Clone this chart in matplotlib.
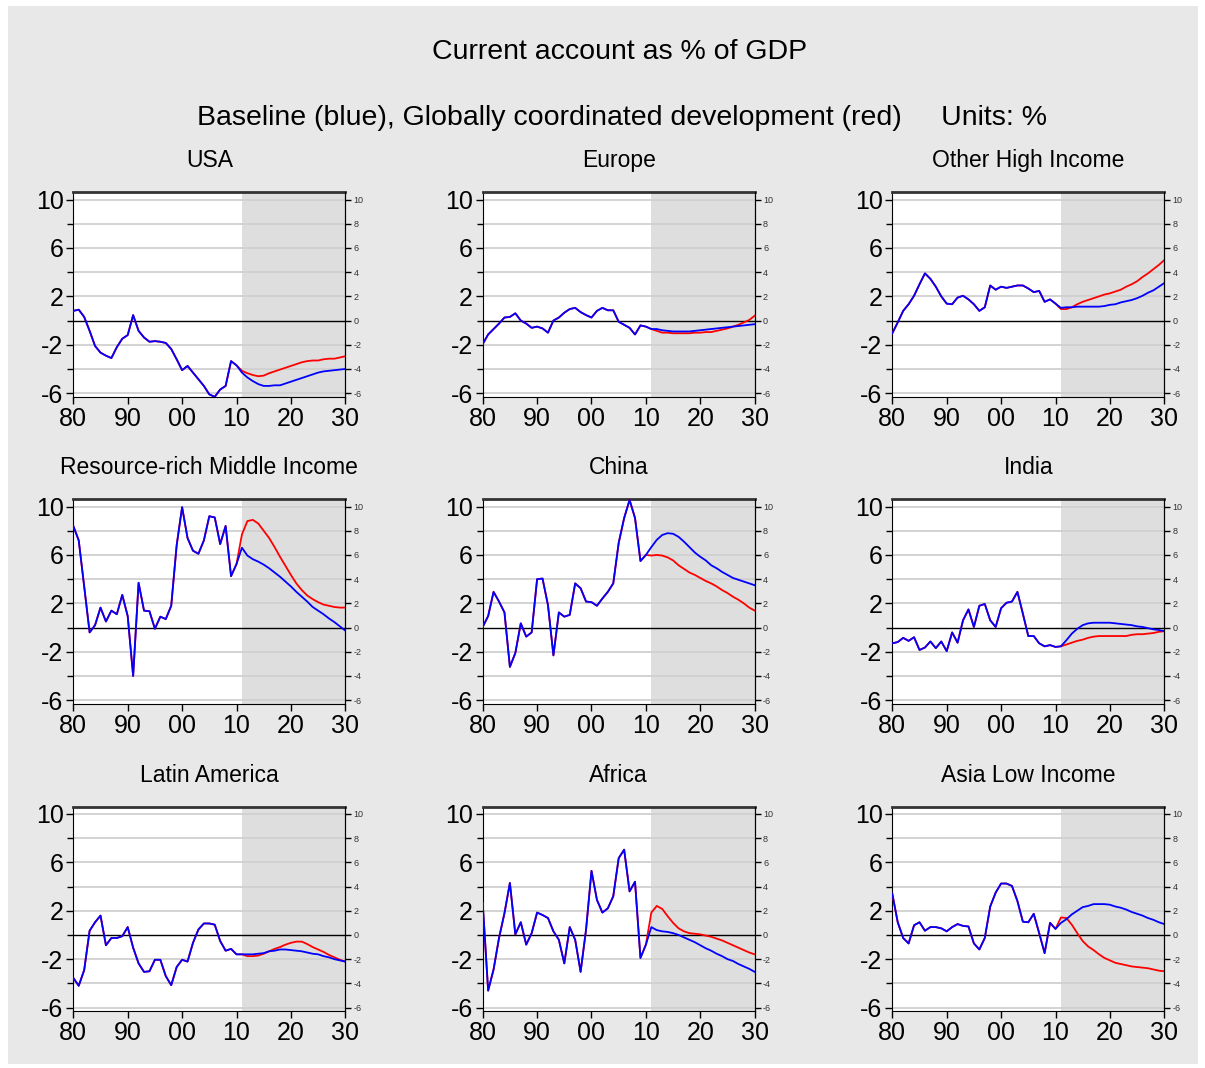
import matplotlib
matplotlib.use("Agg")
import matplotlib.pyplot as plt
import matplotlib.patches as patches
import numpy as np

plt.rcParams['font.family'] = ['Liberation Sans', 'DejaVu Sans']
plt.rcParams['axes.unicode_minus'] = False

years = np.arange(1980, 2031)

regions = ["USA", "Europe", "Other High Income",
           "Resource-rich Middle Income", "China", "India",
           "Latin America", "Africa", "Asia Low Income"]

# history 1980-2010
usa_hist = [0.8, 0.9, 0.3, -0.85, -2.1, -2.65, -2.9, -3.1, -2.2, -1.5, -1.2,
            0.45, -0.85, -1.4, -1.75, -1.7, -1.75, -1.85, -2.35, -3.2, -4.1,
            -3.75, -4.3, -4.85, -5.4, -6.1, -6.3, -5.7, -5.4, -3.35, -3.7]
europe_hist = [-1.95, -1.15, -0.7, -0.25, 0.25, 0.3, 0.6, 0.0, -0.25, -0.6, -0.5,
               -0.65, -1.0, 0.0, 0.25, 0.65, 0.95, 1.05, 0.7, 0.45, 0.25,
               0.8, 1.05, 0.85, 0.85, -0.1, -0.35, -0.6, -1.15, -0.4, -0.5]
ohi_hist = [-1.05, -0.15, 0.8, 1.35, 2.05, 3.0, 3.9, 3.45, 2.8, 2.0, 1.4,
            1.35, 1.9, 2.05, 1.75, 1.35, 0.8, 1.1, 2.9, 2.55, 2.8,
            2.7, 2.8, 2.9, 2.9, 2.65, 2.35, 2.45, 1.55, 1.75, 1.4]
rrmi_hist = [8.4, 7.2, 3.4, -0.4, 0.2, 1.65, 0.5, 1.4, 1.1, 2.7, 0.95,
             -4.0, 3.7, 1.4, 1.35, -0.1, 0.9, 0.7, 1.8, 6.8, 9.95,
             7.4, 6.35, 6.1, 7.2, 9.2, 9.1, 6.9, 8.4, 4.25, 5.25]
china_hist = [0.05, 0.95, 2.95, 2.15, 1.25, -3.25, -2.1, 0.35, -0.75, -0.4, 4.0,
              4.05, 1.85, -2.3, 1.25, 0.9, 1.05, 3.65, 3.25, 2.15, 2.1,
              1.8, 2.4, 2.95, 3.65, 7.0, 9.05, 10.55, 9.05, 5.5, 6.0]
india_hist = [-1.3, -1.2, -0.85, -1.1, -0.8, -1.85, -1.65, -1.15, -1.7, -1.15, -1.95,
              -0.4, -1.25, 0.6, 1.5, 0.05, 1.8, 1.95, 0.6, 0.05, 1.6,
              2.05, 2.15, 2.95, 1.15, -0.7, -0.7, -1.3, -1.55, -1.45, -1.6]
latam_hist = [-3.55, -4.2, -2.9, 0.35, 1.05, 1.6, -0.85, -0.25, -0.25, -0.1, 0.65,
              -1.05, -2.35, -3.05, -3.0, -2.05, -2.05, -3.4, -4.15, -2.65, -2.05,
              -2.2, -0.65, 0.45, 0.95, 0.95, 0.85, -0.5, -1.3, -1.15, -1.6]
africa_hist = [2.65, -4.6, -2.85, -0.25, 1.8, 4.3, 0.05, 1.05, -0.8, 0.15, 1.85,
               1.65, 1.4, 0.3, -0.4, -2.35, 0.65, -0.4, -3.05, 0.45, 5.3,
               2.9, 1.85, 2.2, 3.2, 6.35, 7.05, 3.6, 4.4, -1.9, -0.8]
asia_hist = [3.4, 1.05, -0.25, -0.7, 0.8, 1.05, 0.35, 0.65, 0.65, 0.55, 0.3,
             0.65, 0.9, 0.75, 0.7, -0.7, -1.2, -0.25, 2.35, 3.5, 4.25,
             4.25, 4.05, 2.8, 1.1, 1.05, 1.75, 0.15, -1.5, 1.0, 0.5]

# baseline projections 2011-2030 (blue)
usa_base = [-4.3, -4.7, -5.0, -5.25, -5.4, -5.4, -5.35, -5.35, -5.2, -5.05,
            -4.9, -4.75, -4.6, -4.45, -4.3, -4.2, -4.15, -4.1, -4.05, -4.0]
europe_base = [-0.7, -0.7, -0.8, -0.85, -0.9, -0.9, -0.9, -0.9, -0.85, -0.8,
               -0.75, -0.7, -0.65, -0.6, -0.55, -0.5, -0.45, -0.4, -0.35, -0.3]
ohi_base = [1.05, 1.1, 1.1, 1.15, 1.15, 1.15, 1.15, 1.15, 1.2, 1.3,
            1.35, 1.5, 1.6, 1.7, 1.85, 2.05, 2.3, 2.5, 2.8, 3.1]
rrmi_base = [6.6, 5.95, 5.65, 5.45, 5.2, 4.9, 4.55, 4.2, 3.8, 3.4,
             2.95, 2.55, 2.15, 1.7, 1.4, 1.1, 0.75, 0.45, 0.1, -0.25]
china_base = [6.65, 7.25, 7.65, 7.8, 7.75, 7.5, 7.1, 6.65, 6.2, 5.85,
              5.55, 5.15, 4.9, 4.6, 4.35, 4.1, 3.95, 3.8, 3.65, 3.5]
india_base = [-1.55, -1.05, -0.5, -0.1, 0.2, 0.35, 0.4, 0.4, 0.4, 0.4,
              0.35, 0.3, 0.25, 0.2, 0.1, 0.05, -0.05, -0.15, -0.2, -0.3]
latam_base = [-1.6, -1.6, -1.6, -1.55, -1.5, -1.35, -1.3, -1.2, -1.2, -1.25,
              -1.3, -1.35, -1.45, -1.55, -1.6, -1.75, -1.85, -2.0, -2.1, -2.2]
africa_base = [0.65, 0.4, 0.3, 0.25, 0.15, 0.0, -0.2, -0.4, -0.6, -0.85,
               -1.1, -1.3, -1.55, -1.75, -2.0, -2.15, -2.4, -2.6, -2.8, -3.05]
asia_base = [1.0, 1.3, 1.7, 2.0, 2.3, 2.4, 2.55, 2.55, 2.55, 2.5,
             2.35, 2.25, 2.1, 1.9, 1.75, 1.6, 1.4, 1.25, 1.05, 0.9]

# globally coordinated development 2011-2030 (red)
usa_gcd = [-4.15, -4.35, -4.5, -4.6, -4.55, -4.35, -4.2, -4.05, -3.9, -3.75,
           -3.6, -3.45, -3.35, -3.3, -3.3, -3.2, -3.15, -3.15, -3.05, -2.95]
europe_gcd = [-0.7, -0.85, -1.0, -1.0, -1.05, -1.05, -1.05, -1.05, -1.0, -1.0,
              -0.95, -0.95, -0.85, -0.75, -0.65, -0.5, -0.35, -0.15, 0.05, 0.4]
ohi_gcd = [0.95, 0.95, 1.1, 1.35, 1.55, 1.7, 1.85, 2.0, 2.15, 2.25,
           2.4, 2.55, 2.8, 3.0, 3.25, 3.6, 3.9, 4.25, 4.6, 5.0]
rrmi_gcd = [7.7, 8.8, 8.9, 8.6, 8.0, 7.4, 6.65, 5.85, 5.1, 4.35,
            3.65, 3.1, 2.65, 2.35, 2.1, 1.9, 1.8, 1.7, 1.65, 1.65]
china_gcd = [5.95, 6.0, 5.95, 5.8, 5.55, 5.15, 4.85, 4.55, 4.35, 4.1,
             3.85, 3.65, 3.4, 3.1, 2.85, 2.55, 2.3, 2.0, 1.65, 1.4]
india_gcd = [-1.55, -1.4, -1.25, -1.1, -1.0, -0.85, -0.75, -0.7, -0.7, -0.7,
             -0.7, -0.7, -0.7, -0.6, -0.55, -0.55, -0.5, -0.45, -0.35, -0.3]
latam_gcd = [-1.6, -1.75, -1.75, -1.7, -1.55, -1.35, -1.15, -1.0, -0.8, -0.65,
             -0.55, -0.55, -0.75, -1.0, -1.2, -1.4, -1.65, -1.85, -2.05, -2.2]
africa_gcd = [1.85, 2.4, 2.15, 1.55, 1.0, 0.55, 0.3, 0.15, 0.1, 0.05,
              -0.05, -0.15, -0.3, -0.45, -0.65, -0.85, -1.05, -1.25, -1.45, -1.6]
asia_gcd = [1.45, 1.4, 0.85, 0.15, -0.5, -0.95, -1.25, -1.6, -1.9, -2.1,
            -2.3, -2.4, -2.5, -2.6, -2.65, -2.7, -2.75, -2.85, -2.95, -3.0]

hist = [usa_hist, europe_hist, ohi_hist, rrmi_hist, china_hist, india_hist,
        latam_hist, africa_hist, asia_hist]
base = [usa_base, europe_base, ohi_base, rrmi_base, china_base, india_base,
        latam_base, africa_base, asia_base]
gcd = [usa_gcd, europe_gcd, ohi_gcd, rrmi_gcd, china_gcd, india_gcd,
       latam_gcd, africa_gcd, asia_gcd]

W, H = 1205, 1068
fig = plt.figure(figsize=(W / 100, H / 100), dpi=100)
fig.patch.set_facecolor('white')
fig.add_artist(patches.Rectangle((8 / W, 4 / H), 1190 / W, 1058 / H,
                                 transform=fig.transFigure, facecolor='#e8e8e8',
                                 edgecolor='none', zorder=-10))

fig.text(620 / W, 1 - 52 / H, "Current account as % of GDP", ha='center',
         va='center', fontsize=20.5)
fig.text(622 / W, 1 - 118 / H,
         "Baseline (blue), Globally coordinated development (red)     Units: %",
         ha='center', va='center', fontsize=20.5)

lefts = [73.3, 482.7, 892.3]
tops = [192.3, 499.3, 806.7]
aw, ah = 272, 204.5

for i, name in enumerate(regions):
    r, c = divmod(i, 3)
    ax = fig.add_axes([lefts[c] / W, 1 - (tops[r] + ah) / H, aw / W, ah / H])
    ax.set_xlim(1980, 2030)
    ax.set_ylim(-6.3, 10.6)
    ax.axvspan(2011, 2030, color='#dedede', lw=0, zorder=0)
    for g in range(-6, 11, 2):
        if g != 0:
            ax.axhline(g, color='#d0d0d0', lw=1.3, zorder=1)
    ax.axhline(0, color='black', lw=1.0, zorder=2)

    red = np.concatenate([hist[i], gcd[i]])
    blue = np.concatenate([hist[i], base[i]])
    ax.plot(years, red, color='red', lw=1.3, zorder=3)
    ax.plot(years, blue, color='blue', lw=1.3, zorder=4)

    ax.set_title(name, fontsize=16.5, pad=18)
    ax.set_yticks([-6, -2, 2, 6, 10])
    ax.set_yticks([-4, 0, 4, 8], minor=True)
    ax.set_xticks([1980, 1990, 2000, 2010, 2020, 2030])
    ax.set_xticklabels(['80', '90', '00', '10', '20', '30'])
    ax.tick_params(axis='both', which='major', labelsize=18, direction='out',
                   length=5, width=1, pad=2)
    ax.tick_params(axis='y', which='minor', direction='out', length=4, width=1)
    ax.spines['top'].set_linewidth(2)
    ax.spines['top'].set_color('#333333')

    ax2 = ax.twinx()
    ax2.set_ylim(-6.3, 10.6)
    ax2.set_yticks(range(-6, 11, 2))
    ax2.tick_params(axis='y', labelsize=6.5, direction='out', length=4, width=1,
                    pad=2, labelcolor='#333333')
    for s in ['top', 'left', 'bottom']:
        ax2.spines[s].set_visible(False)

fig.savefig('out.png', dpi=100)
